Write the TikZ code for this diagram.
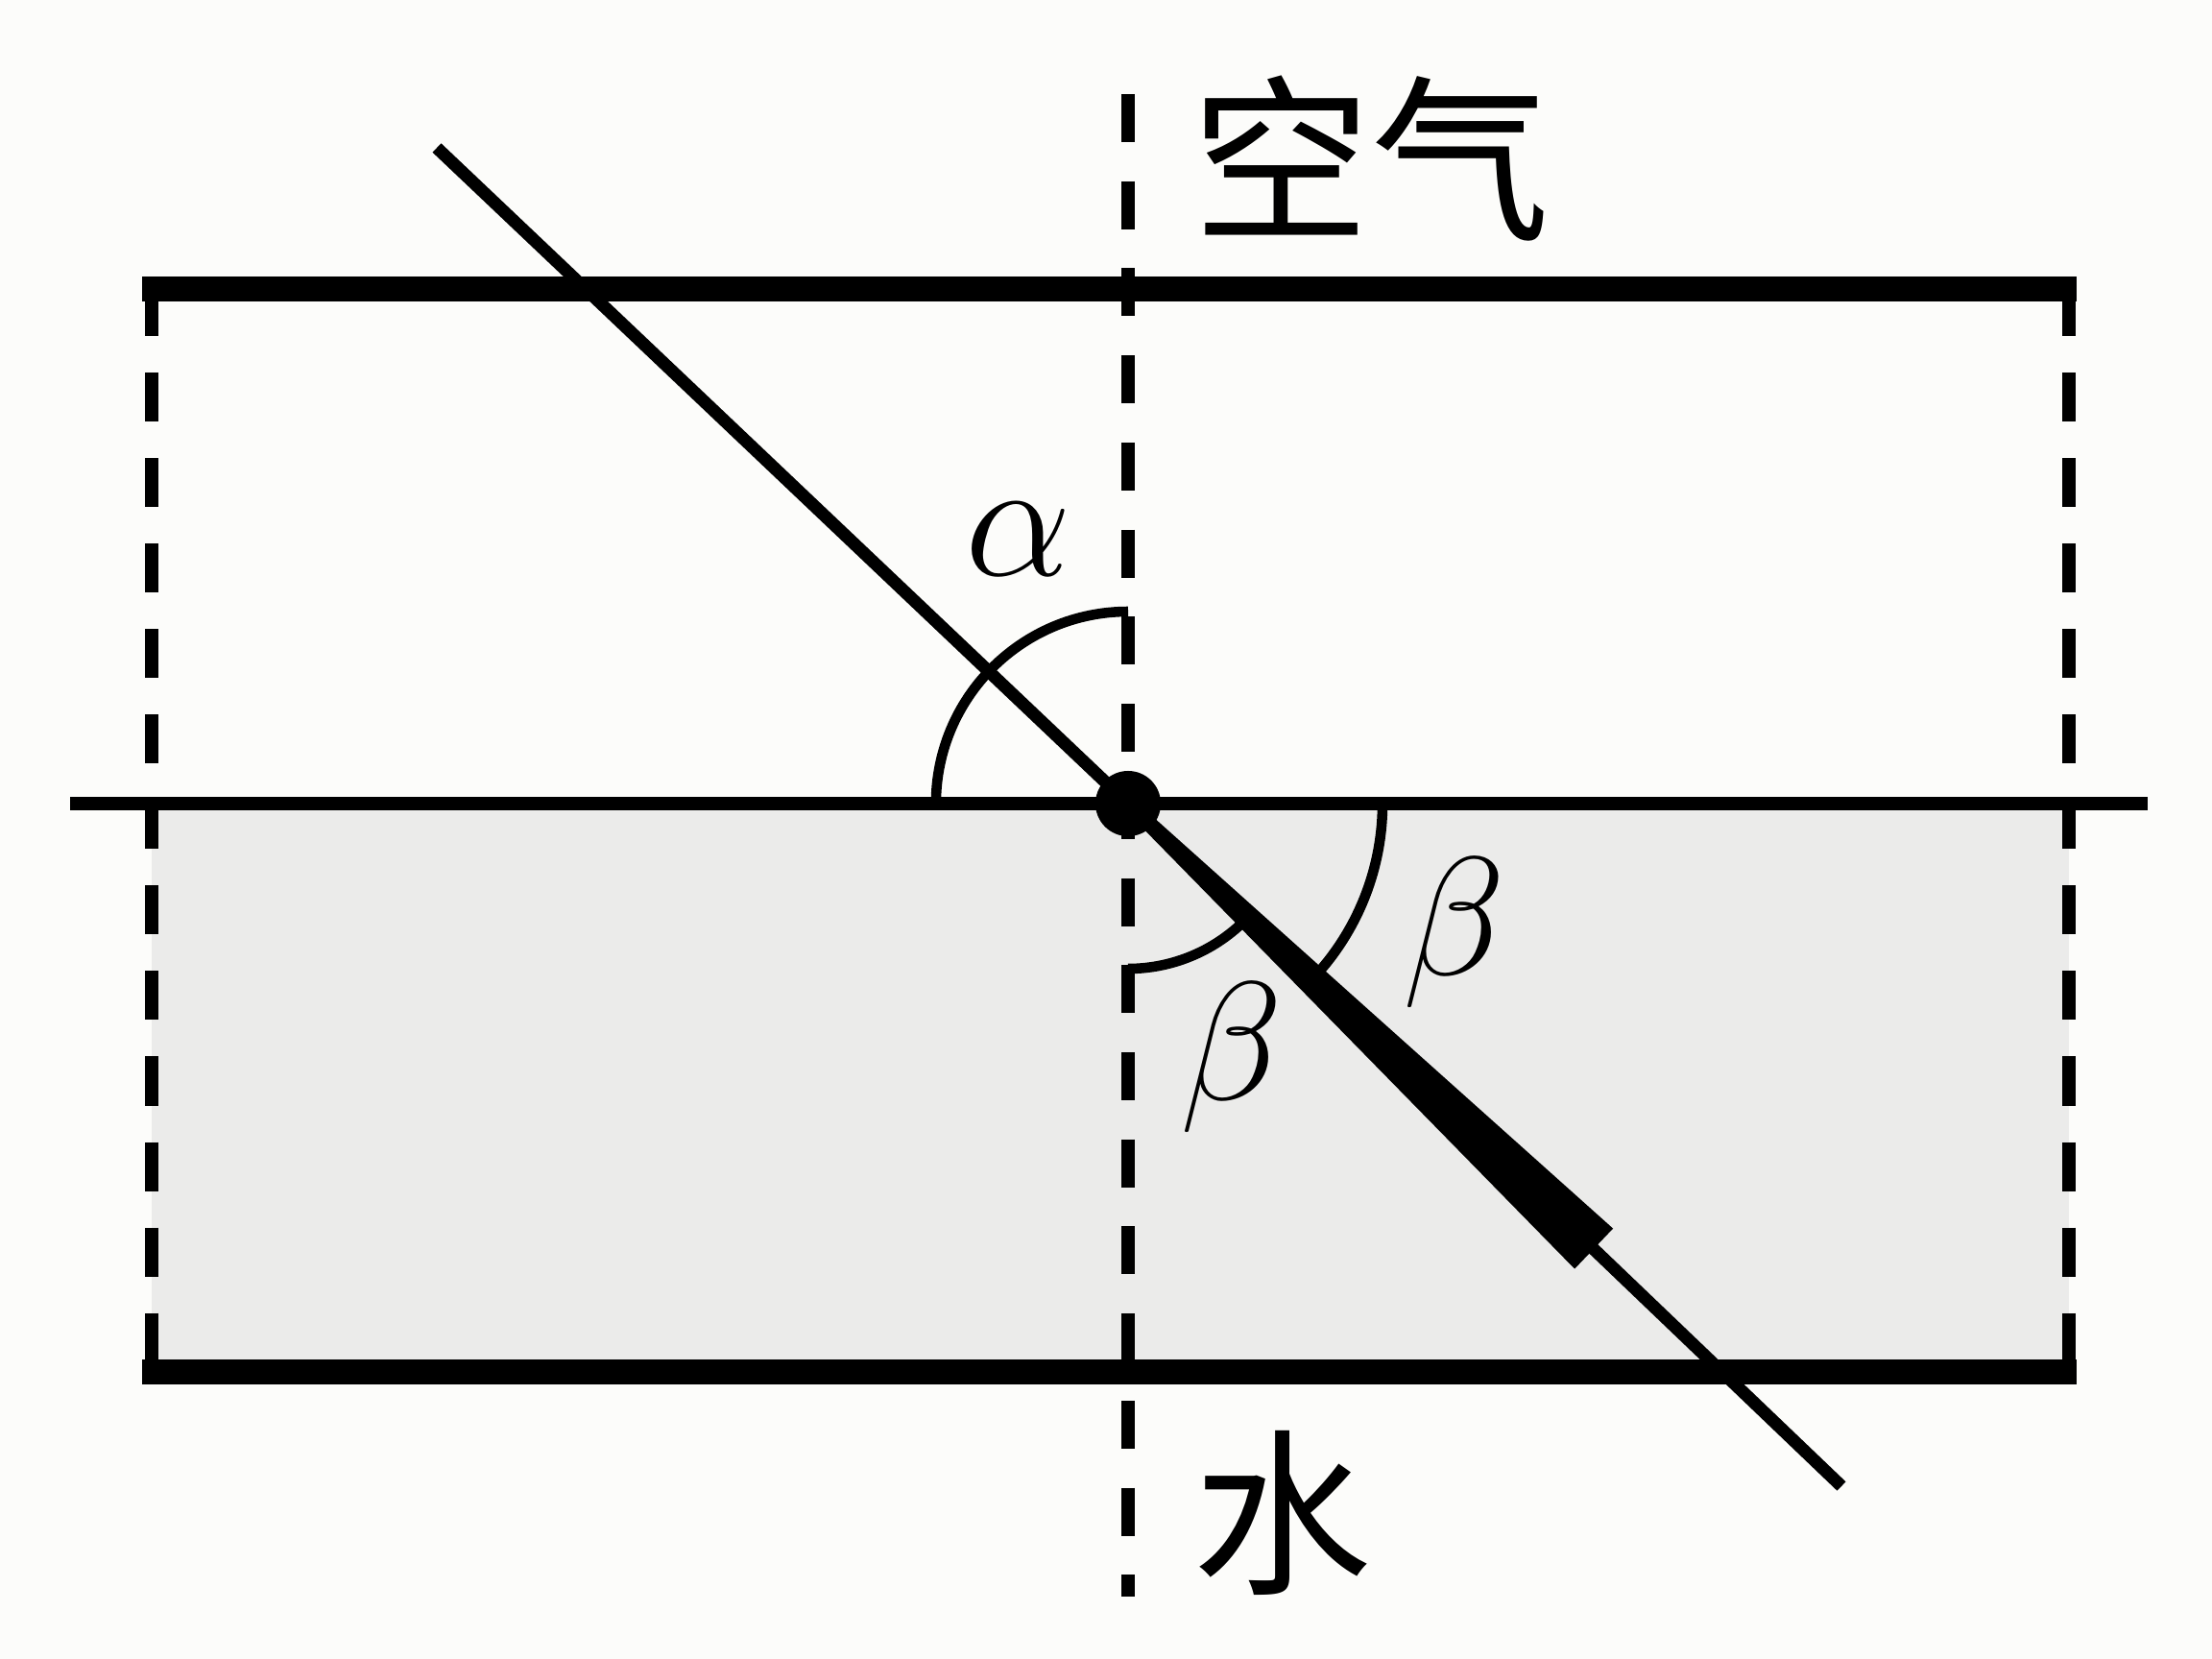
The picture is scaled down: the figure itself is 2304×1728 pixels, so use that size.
\RequirePackage{fix-cm}
\documentclass[tikz,border=0pt]{standalone}
\usepackage{fontspec}
\newfontfamily\cjk{Noto Sans CJK SC}
\definecolor{bgc}{RGB}{252,252,250}
\definecolor{waterc}{RGB}{235,235,234}
\begin{document}
\begin{tikzpicture}[x=0.01cm,y=0.01cm,
  thickline/.style={line width=7.3pt,line cap=butt},
  thinline/.style={line width=3.7pt,line cap=butt},
  cdash/.style={line width=4.2pt,dash pattern=on 0.5cm off 0.4067cm},
  sdash/.style={line width=4.2pt,dash pattern=on 0.51cm off 0.38cm},
  arcline/.style={line width=3pt},
  lbl/.style={inner sep=0pt,font=\fontsize{50}{60}\selectfont},
  cjklbl/.style={inner sep=0pt,font=\cjk\fontsize{53}{60}\selectfont}]
\useasboundingbox (0,0) rectangle (2304,-1728);
\fill[bgc] (0,0) rectangle (2304,-1728);
% coordinates
\coordinate (O) at (1175,-837);
\coordinate (TL) at (148,-301);
\coordinate (TR) at (2163,-301);
\coordinate (BL) at (148,-1429);
\coordinate (BR) at (2163,-1429);
\coordinate (ML) at (73,-837);
\coordinate (MR) at (2237,-837);
\coordinate (VT) at (1175,-98);
\coordinate (VB) at (1175,-1663);
\coordinate (LT) at (158,-299);
\coordinate (LB) at (158,-1429);
\coordinate (RT) at (2155,-299);
\coordinate (RB) at (2155,-1429);
\coordinate (P1) at (455,-154);
\coordinate (P2) at (1918,-1548);
% wedge corners
\coordinate (Wa) at (1170.2,-842.1);
\coordinate (Wb) at (1179.8,-831.9);
\coordinate (Wc) at (1680.1,-1279.6);
\coordinate (Wd) at (1640.1,-1321.6);
% water
\fill[waterc] (158,-837) rectangle (2155,-1429);
% dashed lines
\draw[cdash] (VT) -- (VB);
\draw[sdash] (LT) -- (LB);
\draw[sdash] (RT) -- (RB);
% surfaces
\draw[thickline] (TL) -- (TR);
\draw[thickline] (BL) -- (BR);
\draw[thinline] (ML) -- (MR);
% angle arcs
\draw[arcline] (1175,-637) arc[start angle=90,end angle=180,radius=2cm];
\draw[arcline] (1175,-1009) arc[start angle=-90,end angle=-43.7,radius=1.72cm];
\draw[arcline] (1440,-837) arc[start angle=0,end angle=-43.7,radius=2.65cm];
% ray
\draw[thinline] (P1) -- (O) -- (P2);
\fill (Wa) -- (Wb) -- (Wc) -- (Wd) -- cycle;
\node[circle,fill=black,minimum size=0.68cm,inner sep=0pt] (dot) at (O) {};
% labels
\node[lbl] (alpha) at (1061,-562) {$\alpha$};
\node[lbl] (beta1) at (1283,-1102) {$\beta$};
\node[lbl] (beta2) at (1515,-972) {$\beta$};
\node[cjklbl] (air) at (1428,-165) {空气};
\node[cjklbl] (water) at (1336,-1576) {水};
\end{tikzpicture}
\end{document}
